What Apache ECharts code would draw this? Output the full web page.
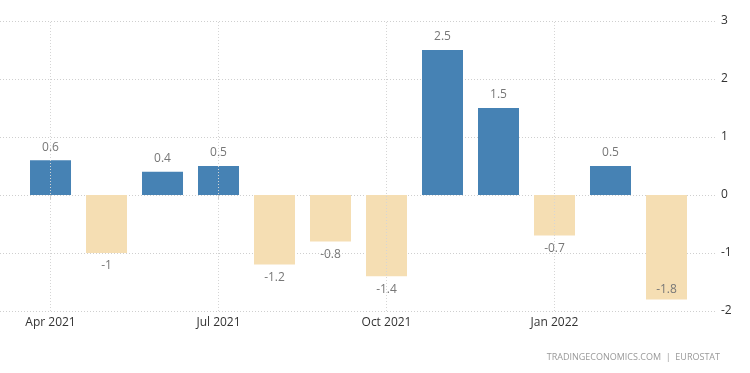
<!DOCTYPE html>
<html><head><meta charset="utf-8">
<script src="https://cdn.jsdelivr.net/npm/echarts@6/dist/echarts.min.js"></script>
<style>html,body{margin:0;padding:0;background:#fff}#c{width:750px;height:373px}</style>
</head><body><div id="c"></div>
<script>
const months = ['Apr 2021','May 2021','Jun 2021','Jul 2021','Aug 2021','Sep 2021','Oct 2021','Nov 2021','Dec 2021','Jan 2022','Feb 2022','Mar 2022'];
const values = [0.6, -1, 0.4, 0.5, -1.2, -0.8, -1.4, 2.5, 1.5, -0.7, 0.5, -1.8];
const tickMonths = [0, 3, 6, 9];
const yTicks = [-2, -1, 0, 1, 2, 3];

const chart = echarts.init(document.getElementById('c'));
const font = '"Open Sans", "Noto Sans", sans-serif';
const data = values.map((v, i) => {
  const d = { value: [i, v], itemStyle: { color: v >= 0 ? '#4682B4' : '#F5DEB3' } };
  if (v < -1.6) {
    d.label = { position: 'insideBottom', distance: 4 };
  } else {
    d.label = { position: v >= 0 ? 'top' : 'bottom', distance: 7 };
  }
  return d;
});
chart.setOption({
  animation: false,
  textStyle: { fontFamily: font },
  title: {
    text: 'TRADINGECONOMICS.COM  |  EUROSTAT',
    right: 25, bottom: 6,
    textStyle: { fontFamily: font, fontSize: 9, fontWeight: 'normal', color: '#999' }
  },
  grid: { left: 0, right: 34, top: 21, bottom: 62 },
  xAxis: {
    type: 'value',
    min: -0.902, max: 11.884,
    axisLine: { show: false },
    splitLine: { show: false },
    axisTick: { show: true, customValues: tickMonths, length: 4, lineStyle: { color: '#ccc' } },
    axisLabel: {
      customValues: tickMonths,
      formatter: v => months[Math.round(v)] || '',
      color: '#333', fontSize: 12, margin: 6, fontFamily: font
    }
  },
  yAxis: {
    type: 'value',
    position: 'right',
    min: yTicks[0], max: yTicks[yTicks.length - 1], interval: 1,
    axisLine: { show: false },
    axisTick: { show: false },
    axisLabel: { color: '#333', fontSize: 12, margin: 5, fontFamily: font },
    splitLine: { lineStyle: { color: '#cfcfcf', type: [1, 2] } }
  },
  series: [{
    type: 'bar',
    barWidth: 41,
    data: data,
    label: {
      show: true,
      color: '#777', fontSize: 12, fontFamily: font,
      formatter: p => String(p.value[1])
    },
    markLine: {
      silent: true,
      symbol: 'none',
      label: { show: false },
      lineStyle: { color: '#d5d5d5', type: [1, 2], width: 1 },
      data: tickMonths.map(m => ({ xAxis: m }))
    },
    z: 3
  }]
});
</script></body></html>
